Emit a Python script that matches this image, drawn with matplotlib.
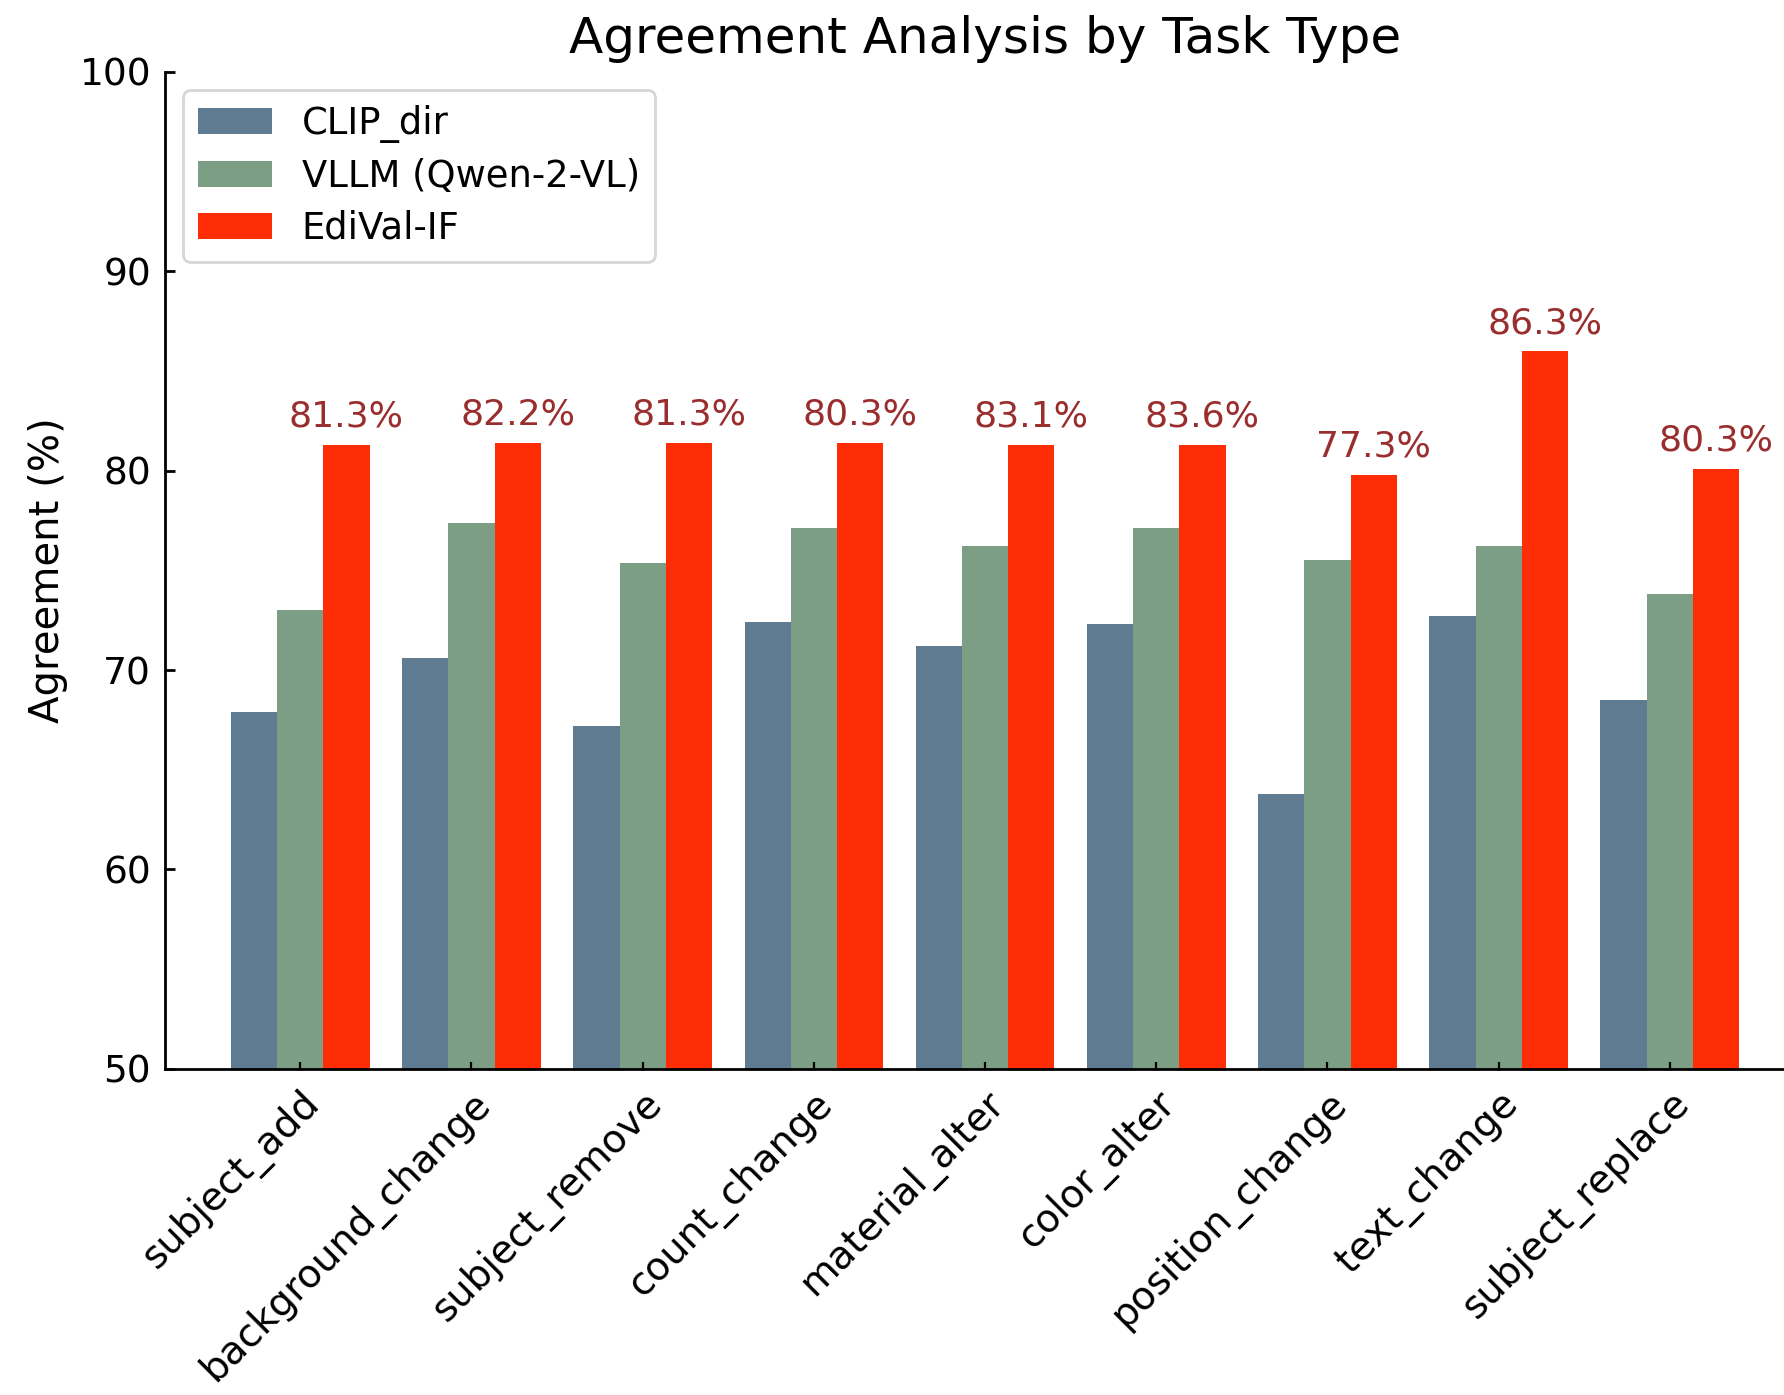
import matplotlib
matplotlib.use("Agg")
import matplotlib.pyplot as plt
import numpy as np

# Data
tasks = ['subject_add', 'background_change', 'subject_remove', 'count_change',
         'material_alter', 'color_alter', 'position_change', 'text_change',
         'subject_replace']
clip_dir = [67.9, 70.6, 67.2, 72.4, 71.2, 72.3, 63.8, 72.7, 68.5]
vllm = [73.0, 77.4, 75.35, 77.1, 76.2, 77.1, 75.5, 76.2, 73.8]
edival = [81.3, 81.4, 81.4, 81.4, 81.3, 81.3, 79.8, 86.0, 80.1]
edival_labels = ['81.3%', '82.2%', '81.3%', '80.3%', '83.1%', '83.6%',
                 '77.3%', '86.3%', '80.3%']
yticks = [50, 60, 70, 80, 90, 100]

plt.rcParams['font.family'] = ['DejaVu Sans']

fig = plt.figure(figsize=(8.92, 6.975), dpi=200)
ax = fig.add_axes([0.0925, 0.2339, 0.9193, 0.7145])

x = np.arange(len(tasks))
w = 0.27

ax.bar(x - w, clip_dir, w, color='#5f7b92', label='CLIP_dir')
ax.bar(x, vllm, w, color='#7b9e85', label='VLLM (Qwen-2-VL)')
ax.bar(x + w, edival, w, color='#ff2d05', label='EdiVal-IF')

# percentage labels above the EdiVal-IF bars
for xi, v, lab in zip(x, edival, edival_labels):
    ax.annotate(lab, (xi + w, v), xytext=(0, 6.5), textcoords='offset points',
                ha='center', va='baseline', fontsize=13, color='#9a2d2d')

ax.set_ylim(50, 100)
ax.set_xlim(-0.79, len(tasks) - 1 + 0.79)
ax.set_yticks(yticks)
ax.set_xticks(x)
ax.set_xticklabels(tasks, rotation=45, ha='right', rotation_mode='anchor',
                   fontsize=14)
ax.tick_params(axis='y', direction='in', labelsize=13.5, pad=5, width=1, length=3.5)
ax.tick_params(axis='x', direction='in', pad=5.5, width=0.8, length=2.5)

ax.spines['top'].set_visible(False)
ax.spines['right'].set_visible(False)
ax.spines['left'].set_linewidth(1.0)
ax.spines['bottom'].set_linewidth(1.0)

ax.set_ylabel('Agreement (%)', fontsize=14.5)
ax.set_title('Agreement Analysis by Task Type', fontsize=18, pad=7)
ax.legend(loc='upper left', fontsize=13.3, labelspacing=0.4)

fig.savefig('out.png', dpi=200)
